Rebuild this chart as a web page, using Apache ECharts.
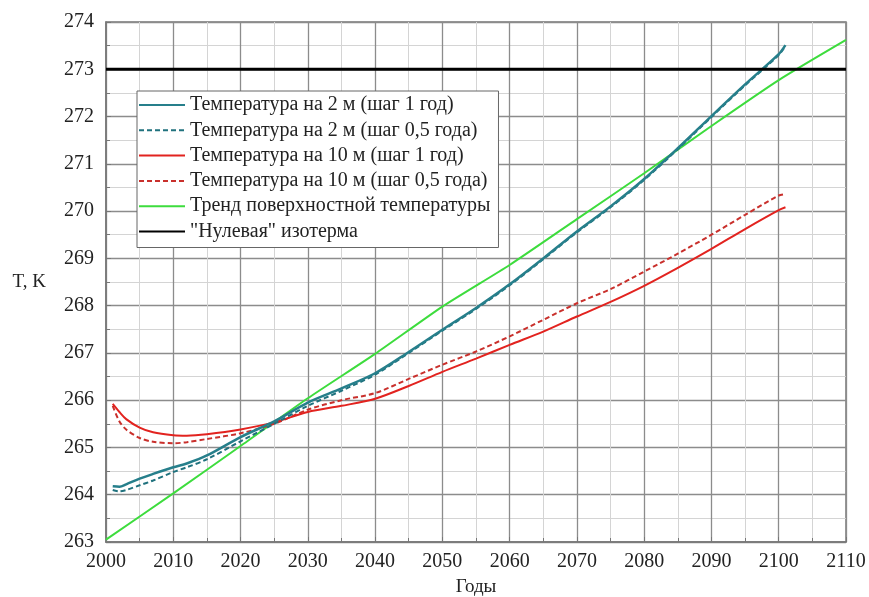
<!DOCTYPE html>
<html>
<head>
<meta charset="utf-8">
<script src="https://cdn.jsdelivr.net/npm/echarts@6/dist/echarts.min.js"></script>
<style>
  html, body { margin: 0; padding: 0; background: #fff; }
  #chart { width: 869px; height: 597px; }
</style>
</head>
<body>
<div id="chart"></div>
<script>
// годы для расчётных кривых
const years = [2001, 2002, 2003, 2005, 2007, 2010, 2012, 2015, 2020, 2025, 2030, 2035, 2040,
  2045, 2050, 2055, 2060, 2065, 2070, 2075, 2080, 2085, 2090, 2095, 2100, 2101]
// температура на 2 м, шаг 1 год
const t2m1 = [264.18, 264.17, 264.22, 264.34, 264.44, 264.58, 264.66, 264.83, 265.22, 265.55, 265.95, 266.25, 266.57,
  267.02, 267.49, 267.95, 268.45, 269.0, 269.57, 270.1, 270.68, 271.33, 272.01, 272.68, 273.32, 273.51]
// температура на 2 м, шаг 0,5 года
const t2m05 = [264.10, 264.07, 264.10, 264.20, 264.30, 264.48, 264.58, 264.75, 265.13, 265.50, 265.88, 266.20, 266.54,
  267.0, 267.47, 267.93, 268.43, 268.98, 269.55, 270.08, 270.66, 271.31, 271.99, 272.66, 273.30, 273.49]
// температура на 10 м, шаг 1 год
const t10m1 = [265.92, 265.75, 265.60, 265.42, 265.32, 265.26, 265.25, 265.28, 265.38, 265.53, 265.75, 265.88, 266.03,
  266.30, 266.60, 266.88, 267.17, 267.45, 267.77, 268.08, 268.42, 268.80, 269.20, 269.62, 270.02, 270.08]
// температура на 10 м, шаг 0,5 года
const t10m05 = [265.88, 265.55, 265.38, 265.20, 265.12, 265.09, 265.11, 265.18, 265.30, 265.50, 265.80, 266.00, 266.15,
  266.45, 266.75, 267.03, 267.35, 267.70, 268.05, 268.35, 268.72, 269.10, 269.50, 269.92, 270.33, 270.36]
// тренд поверхностной температуры
const trendYears = [2000, 2010, 2020, 2030, 2040, 2050, 2060, 2070, 2080, 2090, 2100, 2110]
const trendT = [263.05, 264.03, 265.03, 266.04, 266.98, 267.98, 268.86, 269.83, 270.80, 271.80, 272.77, 273.62]
// нулевая изотерма
const isoYears = [2000, 2110]
const isoT = [273, 273]

const names = [
  'Температура на 2 м (шаг 1 год)',
  'Температура на 2 м (шаг 0,5 года)',
  'Температура на 10 м (шаг 1 год)',
  'Температура на 10 м (шаг 0,5 года)',
  'Тренд поверхностной температуры',
  '"Нулевая" изотерма'
]

function pairs(xs, ys) {
  return xs.map((x, i) => [x, ys[i]])
}

const serif = '"Liberation Serif", "DejaVu Serif", serif'

const chart = echarts.init(document.getElementById('chart'))
chart.setOption({
  animation: false,
  grid: {
    left: 106, right: 23, top: 22, bottom: 55,
    outerBoundsMode: 'none',
    show: true, borderColor: '#777', borderWidth: 1.5
  },
  legend: {
    orient: 'vertical',
    left: 137, top: 91,
    padding: [4, 8, 6, 1],
    itemWidth: 46, itemHeight: 14, itemGap: 5.3, itemTextGap: 6,
    borderColor: '#666', borderWidth: 1,
    backgroundColor: '#fff',
    itemStyle: { opacity: 0 },
    textStyle: { fontFamily: serif, fontSize: 20, lineHeight: 20, color: '#222' },
    data: names
  },
  xAxis: {
    type: 'value',
    min: 2000, max: 2110, interval: 10,
    name: 'Годы',
    nameLocation: 'middle',
    nameGap: 36,
    nameTextStyle: { fontFamily: serif, fontSize: 19, color: '#222' },
    axisLine: { show: true, lineStyle: { color: '#777', width: 1.5 } },
    axisTick: { show: true, inside: true, length: 5, lineStyle: { color: '#777' } },
    minorTick: { show: true, splitNumber: 2, length: 4, lineStyle: { color: '#777' } },
    axisLabel: { fontFamily: serif, fontSize: 20, color: '#222', margin: 10, formatter: v => String(v) },
    splitLine: { show: true, lineStyle: { color: '#8c8c8c', width: 1.3 } },
    minorSplitLine: { show: true, lineStyle: { color: '#d4d4d4', width: 1 } }
  },
  yAxis: {
    type: 'value',
    min: 263, max: 274, interval: 1,
    name: 'T, K',
    nameLocation: 'middle',
    nameRotate: 0,
    nameGap: 60,
    nameTextStyle: { fontFamily: serif, fontSize: 19, color: '#222', padding: [0, 0, 8, 0] },
    axisLine: { show: true, lineStyle: { color: '#777', width: 1.5 } },
    axisTick: { show: true, inside: true, length: 5, lineStyle: { color: '#777' } },
    minorTick: { show: true, splitNumber: 2, length: 4, lineStyle: { color: '#777' } },
    axisLabel: { fontFamily: serif, fontSize: 20, color: '#222', margin: 12 },
    splitLine: { show: true, lineStyle: { color: '#8c8c8c', width: 1.3 } },
    minorSplitLine: { show: true, lineStyle: { color: '#d4d4d4', width: 1 } }
  },
  series: [
    {
      name: names[4], type: 'line', data: pairs(trendYears, trendT),
      showSymbol: false, symbol: 'none', smooth: 0.2,
      lineStyle: { color: '#3ddc3d', width: 2 }, itemStyle: { color: '#3ddc3d' }
    },
    {
      name: names[3], type: 'line', data: pairs(years, t10m05),
      showSymbol: false, symbol: 'none', smooth: 0.3,
      lineStyle: { color: '#c9302c', width: 2, type: [5, 3] }, itemStyle: { color: '#c9302c' }
    },
    {
      name: names[2], type: 'line', data: pairs(years, t10m1),
      showSymbol: false, symbol: 'none', smooth: 0.3,
      lineStyle: { color: '#e2231f', width: 2 }, itemStyle: { color: '#e2231f' }
    },
    {
      name: names[1], type: 'line', data: pairs(years, t2m05),
      showSymbol: false, symbol: 'none', smooth: 0.3,
      lineStyle: { color: '#20727e', width: 2, type: [5, 3] }, itemStyle: { color: '#20727e' }
    },
    {
      name: names[0], type: 'line', data: pairs(years, t2m1),
      showSymbol: false, symbol: 'none', smooth: 0.3,
      lineStyle: { color: '#267f8b', width: 2.5 }, itemStyle: { color: '#267f8b' }
    },
    {
      name: names[5], type: 'line', data: pairs(isoYears, isoT),
      showSymbol: false, symbol: 'none',
      lineStyle: { color: '#000', width: 3 }, itemStyle: { color: '#000' }
    }
  ]
})
</script>
</body>
</html>
